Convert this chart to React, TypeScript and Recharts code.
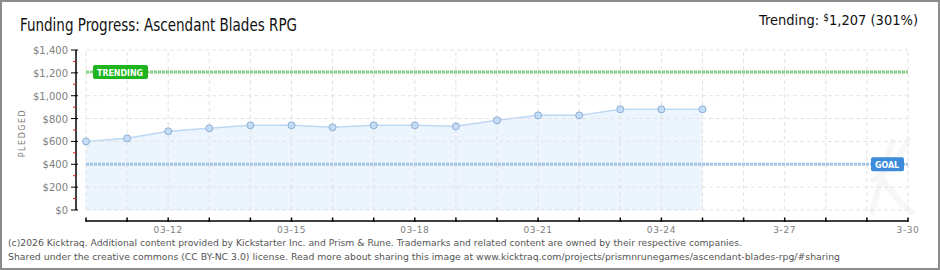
import React from 'react';
import { ComposedChart, Area, XAxis, YAxis, ReferenceLine } from 'recharts';

// ---- data ----
const dayIndex = [0, 1, 2, 3, 4, 5, 6, 7, 8, 9, 10, 11, 12, 13, 14, 15];
const pledged = [600, 627, 689, 715, 741, 741, 723, 741, 741, 732, 785, 828, 828, 881, 881, 881];
const xTickDays = [0, 1, 2, 3, 4, 5, 6, 7, 8, 9, 10, 11, 12, 13, 14, 15, 16, 17, 18, 19, 20];
const labeledDays = [2, 5, 8, 11, 14, 17, 20];
const labeledText = ['03-12', '03-15', '03-18', '03-21', '03-24', '3-27', '3-30'];
const yTicks = [0, 100, 200, 300, 400, 500, 600, 700, 800, 900, 1000, 1100, 1200, 1300, 1400];
const yGridValues = [0, 200, 400, 600, 800, 1000, 1200, 1400];
const goalValue = 400;
const trendingValue = 1207;
const trendingPct = 301;

const data = dayIndex.map((d, i) => ({ day: d, pledged: pledged[i] }));
const tickLabelMap: Record<number, string> = {};
labeledDays.forEach((d, i) => (tickLabelMap[d] = labeledText[i]));

const X_DOMAIN: [number, number] = [0, 20];
const Y_DOMAIN: [number, number] = [0, 1400];
const Y_AXIS_X = -0.243; // y axis sits a little left of the plot (in day units)
const X_AXIS_Y = -96; // x axis sits a little below the plot (in $ units)

const fmtMoney = (v: number) => '$' + v.toLocaleString('en-US');

const tickFont = '"DejaVu Sans", sans-serif';
const condFont = '"DejaVu Sans Condensed", "DejaVu Sans", sans-serif';

const YTick = (props: any) => {
  const { x, y, payload } = props;
  const v = payload.value as number;
  if (v % 200 !== 0) {
    return <line x1={x - 13} x2={x - 10} y1={y} y2={y} stroke="#e02020" strokeWidth={1} />;
  }
  return (
    <g>
      <line x1={x - 15} x2={x - 8} y1={y} y2={y} stroke="#000" strokeWidth={1} />
      <text x={x - 18} y={y + 4} textAnchor="end" fontFamily={tickFont} fontSize={10} fill="#808080">
        {fmtMoney(v)}
      </text>
    </g>
  );
};

const XTick = (props: any) => {
  const { x, y, payload } = props;
  const label = tickLabelMap[payload.value as number];
  return (
    <g>
      <line x1={x} x2={x} y1={y + 7.5} y2={y + 12} stroke="#000" strokeWidth={1.5} />
      {label ? (
        <text x={x} y={y + 23} textAnchor="middle" fontFamily={tickFont} fontSize={9} letterSpacing={0.6} fill="#808080">
          {label}
        </text>
      ) : null}
    </g>
  );
};

const BoxLabel = (props: any) => {
  const { viewBox, text, color, side, w } = props;
  if (!viewBox) return null;
  const h = 14;
  const bx = side === 'left' ? viewBox.x + 7 : viewBox.x + viewBox.width - 4 - w;
  const by = viewBox.y - h / 2;
  return (
    <g>
      <rect x={bx} y={by} width={w} height={h} rx={2} fill={color} />
      <text
        x={bx + 4}
        y={by + 11}
        fontFamily={tickFont}
        fontWeight="bold"
        fontSize={9.5}
        textLength={w - 9}
        lengthAdjust="spacingAndGlyphs"
        fill="#fff"
      >
        {text}
      </text>
    </g>
  );
};

export default function App() {
  return (
    <div style={{ position: 'relative', width: 940, height: 270, background: '#fff', overflow: 'hidden' }}>
      <style>{'body{margin:0}'}</style>
      <svg width={940} height={270} style={{ position: 'absolute', left: 0, top: 0 }}>
        <path
          d="M872 212 C 878 190, 884 165, 893 142 M 873 180 C 890 170, 905 150, 908 140 M 880 176 C 890 190, 900 205, 912 212"
          stroke="#f7f7f7"
          strokeWidth={6}
          fill="none"
          strokeLinecap="round"
        />
      </svg>
      <div style={{ position: 'absolute', left: 0, top: 0 }}>
        <ComposedChart width={940} height={270} data={data} margin={{ top: 50, right: 32, bottom: 30, left: 26 }}>
          <XAxis
            dataKey="day"
            type="number"
            domain={X_DOMAIN}
            ticks={xTickDays}
            interval={0}
            axisLine={false}
            tickLine={false}
            tickSize={0}
            tickMargin={0}
            height={30}
            tick={<XTick />}
          />
          <YAxis
            type="number"
            domain={Y_DOMAIN}
            ticks={yTicks}
            interval={0}
            axisLine={false}
            tickLine={false}
            tickSize={0}
            tickMargin={0}
            width={60}
            tick={<YTick />}
          />
          {yGridValues.map((v) => (
            <ReferenceLine
              key={'h' + v}
              segment={[{ x: X_DOMAIN[0], y: v }, { x: X_DOMAIN[1], y: v }]}
              stroke="#e2e2e2"
              strokeDasharray="4 3"
              ifOverflow="visible"
            />
          ))}
          {xTickDays.map((d) => (
            <ReferenceLine
              key={'v' + d}
              segment={[{ x: d, y: Y_DOMAIN[0] }, { x: d, y: Y_DOMAIN[1] }]}
              stroke="#e2e2e2"
              strokeDasharray="4 3"
              ifOverflow="visible"
            />
          ))}
          <Area
            type="linear"
            dataKey="pledged"
            stroke="#bdd8f3"
            strokeWidth={1.5}
            fill="#d5e7fa"
            fillOpacity={0.45}
            dot={{ r: 3.5, fill: '#c4dcf5', stroke: '#8eafd4', strokeWidth: 1, fillOpacity: 1 }}
            activeDot={false}
            isAnimationActive={false}
          />
          <ReferenceLine
            segment={[{ x: X_DOMAIN[0], y: goalValue }, { x: X_DOMAIN[1], y: goalValue }]}
            stroke="#9dc0e6"
            strokeWidth={3}
            strokeDasharray="3 1"
            ifOverflow="visible"
          />
          <ReferenceLine
            segment={[{ x: X_DOMAIN[0], y: goalValue }, { x: X_DOMAIN[1], y: goalValue }]}
            stroke="#c9dcf2"
            strokeWidth={1}
            strokeDasharray="1 3"
            strokeDashoffset={-1}
            ifOverflow="visible"
            label={<BoxLabel text="GOAL" color="#3d8bdb" side="right" w={33} />}
          />
          <ReferenceLine
            segment={[{ x: X_DOMAIN[0], y: trendingValue }, { x: X_DOMAIN[1], y: trendingValue }]}
            stroke="#7fcc7f"
            strokeWidth={3}
            strokeDasharray="3 1"
            ifOverflow="visible"
          />
          <ReferenceLine
            segment={[{ x: X_DOMAIN[0], y: trendingValue }, { x: X_DOMAIN[1], y: trendingValue }]}
            stroke="#b9e4b9"
            strokeWidth={1}
            strokeDasharray="1 3"
            strokeDashoffset={-1}
            ifOverflow="visible"
            label={<BoxLabel text="TRENDING" color="#1eb41e" side="left" w={55} />}
          />
          <ReferenceLine
            segment={[{ x: Y_AXIS_X, y: Y_DOMAIN[0] }, { x: Y_AXIS_X, y: Y_DOMAIN[1] }]}
            stroke="#000"
            strokeWidth={1.5}
            ifOverflow="visible"
          />
          <ReferenceLine
            segment={[{ x: X_DOMAIN[0], y: X_AXIS_Y }, { x: X_DOMAIN[1], y: X_AXIS_Y }]}
            stroke="#000"
            strokeWidth={1.5}
            ifOverflow="visible"
          />
        </ComposedChart>
      </div>
      <svg width={940} height={270} style={{ position: 'absolute', left: 0, top: 0, pointerEvents: 'none' }}>
        <text
          x={20}
          y={31}
          fontFamily={condFont}
          fontSize={17}
          textLength={277}
          lengthAdjust="spacingAndGlyphs"
          fill="#111"
        >
          Funding Progress: Ascendant Blades RPG
        </text>
        <text x={918} y={25} textAnchor="end" fontFamily={condFont} fontSize={14.5} fill="#111">
          Trending:{'  '}
          <tspan fontSize={10} dy={-4}>$</tspan>
          <tspan dy={4}>{trendingValue.toLocaleString('en-US')} ({trendingPct}%)</tspan>
        </text>
        <text
          transform="translate(25,133) rotate(-90)"
          textAnchor="middle"
          fontFamily={tickFont}
          fontSize={8}
          letterSpacing={1.5}
          fill="#808080"
        >
          PLEDGED
        </text>
        <text x={8} y={246} fontFamily={tickFont} fontSize={9} textLength={734} lengthAdjust="spacingAndGlyphs" fill="#555">
          (c)2026 Kicktraq. Additional content provided by Kickstarter Inc. and Prism &amp; Rune. Trademarks and related content are owned by their respective companies.
        </text>
        <text x={8} y={260} fontFamily={tickFont} fontSize={9} textLength={832} lengthAdjust="spacingAndGlyphs" fill="#555">
          Shared under the creative commons (CC BY-NC 3.0) license. Read more about sharing this image at www.kicktraq.com/projects/prismnrunegames/ascendant-blades-rpg/#sharing
        </text>
      </svg>
      <div
        style={{
          position: 'absolute',
          left: 0,
          top: 0,
          width: 940,
          height: 270,
          boxSizing: 'border-box',
          border: '2px solid #8c8c8c',
          pointerEvents: 'none',
        }}
      />
    </div>
  );
}
